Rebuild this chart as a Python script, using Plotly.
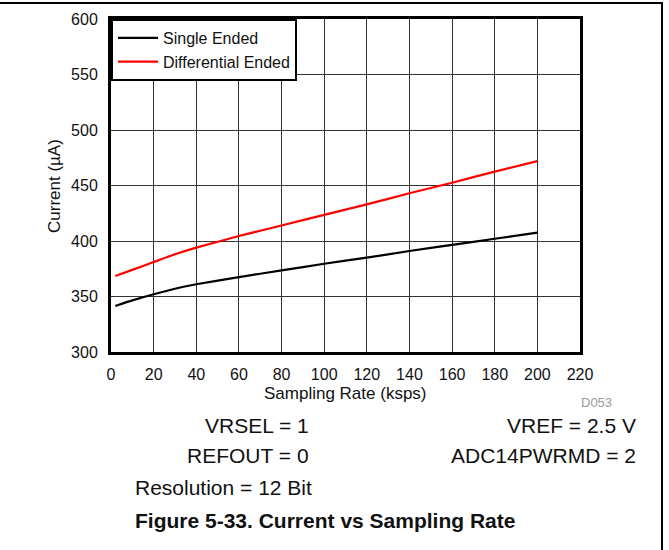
import plotly.graph_objects as go

rate = [2, 10, 20, 30, 40, 60, 80, 100, 120, 140, 160, 180, 200]
single = [341.5, 346.5, 352, 357, 361, 367.5, 373.5, 379.5, 385, 391, 396.5, 402, 407.5]
diff = [368.5, 374, 381, 388, 394, 404.5, 414, 423.5, 433, 443, 452.5, 462.5, 472]

x_ticks = list(range(0, 221, 20))
y_ticks = list(range(300, 601, 50))

L, R, T, B = 111, 580, 19, 352
W, H = 669, 550

def px(x):
    return (x - L) / (R - L)

def py(y):
    return (B - y) / (B - T)

fig = go.Figure()
fig.add_trace(go.Scatter(x=rate, y=single, mode="lines", name="Single Ended",
                         line=dict(color="black", width=2.2, shape="spline", smoothing=0.5)))
fig.add_trace(go.Scatter(x=rate, y=diff, mode="lines", name="Differential Ended",
                         line=dict(color="#ff0000", width=2.2, shape="spline", smoothing=0.5)))

font = "Liberation Sans, Arial, sans-serif"
fig.update_layout(
    width=W, height=H,
    margin=dict(l=L, r=W - R, t=T, b=H - B, autoexpand=False),
    paper_bgcolor="white", plot_bgcolor="white",
    font=dict(family=font, size=16, color="#111"),
    showlegend=True,
    legend=dict(x=0, y=1, xanchor="left", yanchor="top",
                bordercolor="black", borderwidth=2, bgcolor="white",
                font=dict(size=16, family=font, color="#111"),
                itemwidth=40, tracegroupgap=0),
    xaxis=dict(range=[0, 220], tickvals=x_ticks, showgrid=True, gridcolor="#333", gridwidth=1,
               showline=True, linecolor="black", linewidth=3, mirror=True, zeroline=False,
               ticks="", ticklabelstandoff=6, tickfont=dict(size=16)),
    yaxis=dict(range=[300, 600], tickvals=y_ticks, showgrid=True, gridcolor="#333", gridwidth=1,
               showline=True, linecolor="black", linewidth=3, mirror=True, zeroline=False,
               ticks="", ticklabelstandoff=7, tickfont=dict(size=16)),
)

anns = [
    dict(text="Sampling Rate (ksps)", x=px(345), y=py(393), xanchor="center", yanchor="middle", size=17),
    dict(text="D053", x=px(614), y=py(402), xanchor="right", yanchor="middle", size=13, color="#999"),
    dict(text="VRSEL = 1", x=px(311), y=py(425), xanchor="right", yanchor="middle", size=21),
    dict(text="VREF = 2.5 V", x=px(638), y=py(425), xanchor="right", yanchor="middle", size=21),
    dict(text="REFOUT = 0", x=px(311), y=py(455), xanchor="right", yanchor="middle", size=21),
    dict(text="ADC14PWRMD = 2", x=px(638), y=py(455), xanchor="right", yanchor="middle", size=21),
    dict(text="Resolution = 12 Bit", x=px(133), y=py(487), xanchor="left", yanchor="middle", size=21),
    dict(text="<b>Figure 5-33. Current vs Sampling Rate</b>", x=px(133), y=py(520), xanchor="left",
         yanchor="middle", size=21),
]
for a in anns:
    fig.add_annotation(text=a["text"], x=a["x"], y=a["y"], xref="paper", yref="paper",
                       xanchor=a["xanchor"], yanchor=a["yanchor"], showarrow=False,
                       font=dict(size=a["size"], family=font, color=a.get("color", "#111")))

fig.add_annotation(text="Current (µA)", x=px(54), y=py(186), xref="paper", yref="paper",
                   textangle=-90, showarrow=False, xanchor="center", yanchor="middle",
                   font=dict(size=17, family=font, color="#111"))

# outer frame lines (top and right)
fig.add_shape(type="line", xref="paper", yref="paper", x0=px(0), x1=px(663), y0=py(3), y1=py(3),
              line=dict(color="black", width=2))
fig.add_shape(type="line", xref="paper", yref="paper", x0=px(662), x1=px(662), y0=py(3), y1=py(551),
              line=dict(color="black", width=2))

fig.write_html("out.html", config={"displayModeBar": False},
               post_script="document.body.style.margin='0';document.body.style.overflow='hidden';")
